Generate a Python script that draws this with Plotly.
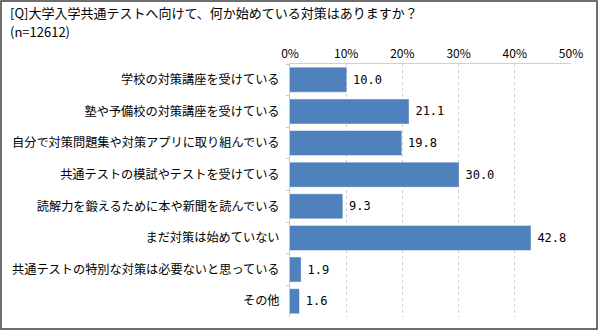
import plotly.graph_objects as go

categories = [
    "学校の対策講座を受けている",
    "塾や予備校の対策講座を受けている",
    "自分で対策問題集や対策アプリに取り組んでいる",
    "共通テストの模試やテストを受けている",
    "読解力を鍛えるために本や新聞を読んでいる",
    "まだ対策は始めていない",
    "共通テストの特別な対策は必要ないと思っている",
    "その他",
]
values = [10.0, 21.1, 19.8, 30.0, 9.3, 42.8, 1.9, 1.6]
tick_vals = [0, 10, 20, 30, 40, 50]
tick_text = ["0%", "10%", "20%", "30%", "40%", "50%"]
title_lines = ["[Q]大学入学共通テストへ向けて、何か始めている対策はありますか？", "(n=12612)"]

W, H = 598, 330
L, R, T, B = 290, 27, 64, 13
pw, ph = W - L - R, H - T - B

JP = "Noto Sans CJK JP, sans-serif"

fig = go.Figure(go.Bar(
    x=values, y=categories, orientation="h",
    marker=dict(color="#4F81BD", line=dict(color="#4A7AB5", width=0.5)),
    width=0.76,
    text=[f"<span style='font-family:DejaVu Sans'> </span>{v:.1f}" for v in values],
    textposition="outside",
    textfont=dict(family="DejaVu Sans Mono, monospace", size=12, color="#000"),
    cliponaxis=False,
))

fig.update_layout(
    width=W, height=H,
    margin=dict(l=L, r=R, t=T, b=B, autoexpand=False),
    paper_bgcolor="white", plot_bgcolor="white",
    showlegend=False,
    font=dict(family=JP, size=12, color="#000"),
    xaxis=dict(
        side="top", range=[0, 50], tickvals=tick_vals, ticktext=tick_text,
        showgrid=True, gridcolor="#D0D0D0", griddash="dot", gridwidth=1,
        showline=True, linecolor="#D0D0D0", linewidth=1,
        zeroline=False, ticks="", tickfont=dict(family=JP, size=12),
        fixedrange=True, automargin=False,
    ),
    yaxis=dict(
        autorange="reversed", showline=True, linecolor="#C8C8C8", linewidth=1,
        ticks="outside", tickson="boundaries", ticklen=3, tickcolor="#C8C8C8",
        tickfont=dict(family=JP, size=12.2), ticklabelstandoff=7,
        fixedrange=True, automargin=False,
    ),
    bargap=0.24,
)

# outer border
fig.add_shape(type="rect", xref="paper", yref="paper",
              x0=(1 - L) / pw, x1=(W - 1 - L) / pw,
              y0=-(B - 1) / ph,
              y1=1 + (T - 1) / ph,
              line=dict(color="#404040", width=1.5), fillcolor="rgba(0,0,0,0)")

for i, (line, yc) in enumerate(zip(title_lines, [12.5, 31.5])):
    fig.add_annotation(xref="paper", yref="paper", x=(8 - L) / pw, y=1 + (T - yc) / ph,
                       xanchor="left", yanchor="middle", align="left", showarrow=False,
                       text=line, font=dict(family=JP, size=13, color="#000"))

fig.write_html("out.html")
